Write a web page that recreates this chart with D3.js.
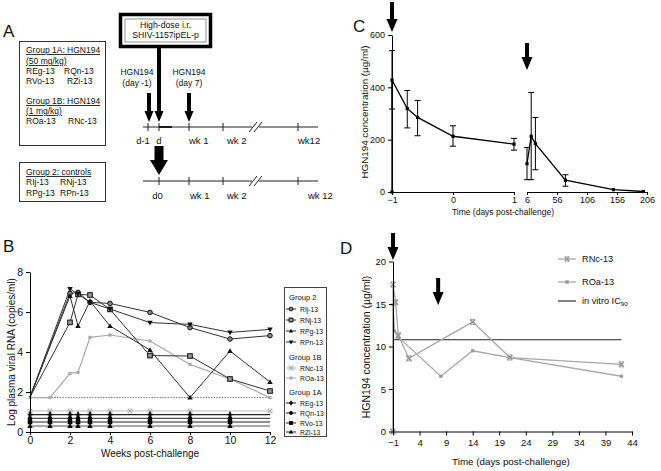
<!DOCTYPE html>
<html><head><meta charset="utf-8">
<script src="https://cdn.jsdelivr.net/npm/d3@7"></script>
<style>
body{margin:0;background:#fff}
svg{display:block}
text{font-family:"Liberation Sans",Arial,Helvetica,sans-serif;fill:#111}
</style>
</head><body>
<svg id="c" width="661" height="471"></svg>
<script>
// ---------------- DATA ----------------
// Panel B: log plasma viral RNA
const bWeeks = [0, 2, 2.4, 3, 4, 6, 8, 10, 12];
const rlj = [1.75, 6.93, 6.98, 6.48, 6.43, 5.98, 5.22, 4.65, 4.82];
const rnj = [1.75, 5.48, 6.88, 6.85, 6.13, 3.82, 3.80, 2.65, 2.05];
const rpg = [1.75, 6.80, 5.30, 6.55, 5.30, 4.10, 1.72, 4.05, 2.50];
const rpn = [1.75, 7.15, 6.90, 6.48, 6.15, 5.47, 5.38, 4.98, 5.13];
const roaWeeks = [0, 1, 2, 2.4, 3, 4, 6, 8, 10, 12];
const roa = [1.72, 1.72, 2.93, 2.98, 4.73, 4.85, 4.55, 3.38, 2.65, 1.72];
const rncWeeks = [0, 1, 2, 3, 4, 5, 6, 8, 12];
const rncLevel = 1.05;
const g1aNames = ["REg-13", "RQn-13", "RVo-13", "RZi-13"];
const g1aWeeks = [0, 1, 2, 2.4, 3, 4, 6, 8, 10];
const g1aLevels = [0.87, 0.68, 0.50, 0.30];
const bLimit = 1.72;
const bXTicks = [0, 2, 4, 6, 8, 10, 12];
const bYTicks = [0, 2, 4, 6, 8];

// Panel C: HGN194 concentration (mean, error)
const c1Days = [-1, -1, -0.75, -0.58, 0, 1];
const c1Mean = [0, 428, 319, 285, 213, 183];
const c1Lo = [null, 317, 245, 215, 175, 160];
const c1Hi = [null, 540, 388, 350, 253, 205];
const c2Days = [6, 13, 20, 70, 150, 200];
const c2Mean = [108, 213, 185, 45, 9, 2];
const c2Lo = [47, 47, 85, 22, null, null];
const c2Hi = [170, 380, 285, 66, null, null];
const cX1Ticks = [-1, 0, 1];
const cX2Ticks = [6, 56, 106, 156, 206];
const cYTicks = [0, 200, 400, 600];
const cArrowDays = [-1, 6];

// Panel D: RNc-13 / ROa-13
const rncDDays = [-1, -1, -0.5, 0, 2, 14, 21, 42];
const rncDVals = [0, 17.3, 15.2, 11.3, 8.6, 12.9, 8.7, 7.9];
const roaDDays = [-1, -1, -0.7, 0, 8, 14, 21, 42];
const roaDVals = [0, 14.9, 11.8, 11.1, 6.5, 9.5, 8.7, 6.5];
const ic90 = 10.8;
const ic90Range = [-1, 42];
const dXTicks = [-1, 4, 9, 14, 19, 24, 29, 34, 39, 44];
const dYTicks = [0, 5, 10, 15, 20];
const dArrowDays = [-1, 7.5];

// ---------------- HELPERS ----------------
const svg = d3.select("#c");
const zip = (xs, ys) => xs.map((x, i) => [x, ys[i]]);
const fmtInt = d3.format("d");

function styleAxis(sel, fs) {
  sel.selectAll("path.domain").attr("stroke", "#000").attr("stroke-width", 1);
  sel.selectAll(".tick line").attr("stroke", "#000");
  sel.selectAll(".tick text").attr("font-size", fs).attr("fill", "#111")
     .attr("font-family", '"Liberation Sans",Arial,sans-serif');
  sel.attr("font-size", null).attr("font-family", null);
}

function marker(g, type, x, y, s) {
  s = s || 2.5;
  const tri = (up) => up
    ? `M${x},${y - s * 1.25}L${x + s * 1.2},${y + s * 0.85}L${x - s * 1.2},${y + s * 0.85}Z`
    : `M${x},${y + s * 1.25}L${x + s * 1.2},${y - s * 0.85}L${x - s * 1.2},${y - s * 0.85}Z`;
  switch (type) {
    case "circle":
      g.append("circle").attr("cx", x).attr("cy", y).attr("r", s)
        .attr("fill", "#888").attr("stroke", "#111").attr("stroke-width", 1); break;
    case "square":
      g.append("rect").attr("x", x - s).attr("y", y - s).attr("width", 2 * s).attr("height", 2 * s)
        .attr("fill", "#999").attr("stroke", "#111").attr("stroke-width", 1); break;
    case "tri": g.append("path").attr("d", tri(true)).attr("fill", "#111"); break;
    case "dtri": g.append("path").attr("d", tri(false)).attr("fill", "#111"); break;
    case "xbox":
      g.append("rect").attr("x", x - s).attr("y", y - s).attr("width", 2 * s).attr("height", 2 * s)
        .attr("fill", "none").attr("stroke", "#bbb").attr("stroke-width", 0.8);
      g.append("path").attr("d", `M${x - s},${y - s}L${x + s},${y + s}M${x + s},${y - s}L${x - s},${y + s}`)
        .attr("stroke", "#aaa").attr("stroke-width", 0.9); break;
    case "gsq":
      g.append("rect").attr("x", x - s * 0.8).attr("y", y - s * 0.8).attr("width", 1.6 * s).attr("height", 1.6 * s)
        .attr("fill", "#aaa"); break;
    case "plus":
      g.append("path").attr("d", `M${x - s},${y}L${x + s},${y}M${x},${y - s * 1.2}L${x},${y + s * 1.2}`)
        .attr("stroke", "#000").attr("stroke-width", 1.6); break;
    case "fcircle":
      g.append("circle").attr("cx", x).attr("cy", y).attr("r", s).attr("fill", "#000"); break;
    case "fsquare":
      g.append("rect").attr("x", x - s).attr("y", y - s).attr("width", 2 * s).attr("height", 2 * s).attr("fill", "#000"); break;
    case "ftri": g.append("path").attr("d", tri(true)).attr("fill", "#000"); break;
    case "xmark":
      g.append("path").attr("d", `M${x - s},${y - s}L${x + s},${y + s}M${x + s},${y - s}L${x - s},${y + s}`)
        .attr("stroke", "#999").attr("stroke-width", 1.6);
      g.append("path").attr("d", `M${x - s},${y - s}L${x + s},${y - s}M${x - s},${y + s}L${x + s},${y + s}`)
        .attr("stroke", "#999").attr("stroke-width", 0.8); break;
    case "dsq":
      g.append("rect").attr("x", x - s * 0.8).attr("y", y - s * 0.8).attr("width", 1.6 * s).attr("height", 1.6 * s)
        .attr("fill", "#999"); break;
  }
}

function arrow(g, x, y1, y2, shaftW, headW, headL) {
  const hs = y2 - headL;
  g.append("path").attr("d",
    `M${x - shaftW / 2},${y1}L${x + shaftW / 2},${y1}L${x + shaftW / 2},${hs}L${x + headW / 2},${hs}` +
    `L${x},${y2}L${x - headW / 2},${hs}L${x - shaftW / 2},${hs}Z`).attr("fill", "#000");
}

function txt(g, s, x, y, fs, anchor, extra) {
  const t = g.append("text").attr("x", x).attr("y", y).attr("font-size", fs)
    .attr("text-anchor", anchor || "start").text(s);
  if (extra) extra(t);
  return t;
}

// ---------------- PANEL A ----------------
const gA = svg.append("g");
txt(gA, "A", 3, 37, 17);
gA.append("rect").attr("x", 19.5).attr("y", 41.5).attr("width", 86).attr("height", 104)
  .attr("fill", "none").attr("stroke", "#333").attr("stroke-width", 1);
gA.append("rect").attr("x", 19.5).attr("y", 162.5).attr("width", 86).attr("height", 39)
  .attr("fill", "none").attr("stroke", "#333").attr("stroke-width", 1);
const ul = t => t.attr("text-decoration", "underline");
txt(gA, "Group 1A: HGN194", 26, 53, 8.5, "start", ul);
txt(gA, "(50 mg/kg)", 26, 64, 8.5, "start", ul);
txt(gA, g1aNames[0], 26, 74, 8.5); txt(gA, g1aNames[1], 64, 74, 8.5);
txt(gA, g1aNames[2], 26, 84, 8.5); txt(gA, g1aNames[3], 67, 84, 8.5);
txt(gA, "Group 1B: HGN194", 26, 104, 8.5, "start", ul);
txt(gA, "(1 mg/kg)", 26, 114, 8.5, "start", ul);
txt(gA, "ROa-13", 26, 124, 8.5); txt(gA, "RNc-13", 68, 124, 8.5);
txt(gA, "Group 2: controls", 26, 175, 8.5, "start", ul);
txt(gA, "RIj-13", 26, 185, 8.5); txt(gA, "RNj-13", 60, 185, 8.5);
txt(gA, "RPg-13", 26, 196, 8.5); txt(gA, "RPn-13", 60, 196, 8.5);
gA.append("rect").attr("x", 120.5).attr("y", 14.5).attr("width", 90).attr("height", 32)
  .attr("fill", "#fff").attr("stroke", "#000").attr("stroke-width", 3.5);
gA.append("rect").attr("x", 125).attr("y", 19).attr("width", 81).attr("height", 23)
  .attr("fill", "none").attr("stroke", "#777").attr("stroke-width", 0.8);
txt(gA, "High-dose i.r.", 165.5, 28, 8.7, "middle");
txt(gA, "SHIV-1157ipEL-p", 165.5, 38, 8.7, "middle");
function timeline(y, ticks) {
  gA.append("line").attr("x1", 143).attr("x2", 318).attr("y1", y).attr("y2", y).attr("stroke", "#222").attr("stroke-width", 1);
  ticks.forEach(t => gA.append("line").attr("x1", t).attr("x2", t).attr("y1", y - 4).attr("y2", y + 4).attr("stroke", "#222"));
  gA.append("rect").attr("x", 252).attr("y", y - 2).attr("width", 7).attr("height", 4).attr("fill", "#fff");
  gA.append("path").attr("d", `M249,${y + 5}L257,${y - 5}M254,${y + 5}L262,${y - 5}`).attr("stroke", "#222").attr("stroke-width", 1);
}
timeline(127, [148, 159, 189, 223, 298]);
gA.append("line").attr("x1", 159).attr("x2", 172).attr("y1", 127).attr("y2", 127).attr("stroke", "#000").attr("stroke-width", 1.6);
timeline(181, [159, 189, 223, 298]);
txt(gA, "d-1", 143, 144, 9.5, "middle");
txt(gA, "d", 159, 144, 9.5, "middle");
txt(gA, "wk 1", 189, 144, 9.5);
txt(gA, "wk 2", 227, 144, 9.5);
txt(gA, "wk12", 298, 144, 9.5);
txt(gA, "d0", 157.5, 199, 9.5, "middle");
txt(gA, "wk 1", 190, 199, 9.5);
txt(gA, "wk 2", 227, 199, 9.5);
txt(gA, "wk 12", 308, 199, 9.5);
txt(gA, "HGN194", 137, 75, 8.5, "middle");
txt(gA, "(day -1)", 137, 86, 8.5, "middle");
txt(gA, "HGN194", 189, 75, 8.5, "middle");
txt(gA, "(day 7)", 189, 86, 8.5, "middle");
arrow(gA, 159, 48, 122, 4, 9, 11);
arrow(gA, 149, 93, 122, 4, 9, 11);
arrow(gA, 189, 93, 122, 4, 9, 11);
arrow(gA, 159, 146, 175, 9, 18, 15);

// ---------------- PANEL B ----------------
const bx = d3.scaleLinear([0, 12], [30, 270]);
const by = d3.scaleLinear([0, 8], [432, 272]);
const gB = svg.append("g");
txt(gB, "B", 3, 252, 17);
const bLine = d3.line().x(d => bx(d[0])).y(d => by(d[1]));

gB.append("path").attr("d", bLine([[0, rncLevel], [12, rncLevel]])).attr("stroke", "#bbb").attr("stroke-width", 1.2).attr("fill", "none");
g1aLevels.forEach((lv, i) => {
  gB.append("path").attr("d", bLine([[0, lv], [12, lv]])).attr("stroke", i % 2 ? "#555" : "#222")
    .attr("stroke-width", 1.1).attr("fill", "none");
});
gB.append("path").attr("d", bLine([[0, bLimit], [12, bLimit]])).attr("stroke", "#777")
  .attr("stroke-width", 1).attr("stroke-dasharray", "1.5,1.2").attr("fill", "none");

rncWeeks.forEach(w => marker(gB, "xbox", bx(w), by(rncLevel), 2));
const g1aMarkers = ["plus", "fcircle", "fsquare", "ftri"];
g1aLevels.forEach((lv, i) => g1aWeeks.forEach(w => marker(gB, g1aMarkers[i], bx(w), by(lv), 2.3)));

gB.append("path").attr("d", bLine(zip(roaWeeks, roa))).attr("stroke", "#aaa").attr("stroke-width", 1.2).attr("fill", "none");
zip(roaWeeks, roa).forEach(d => marker(gB, "gsq", bx(d[0]), by(d[1]), 2));

const g2 = [
  { name: "RIj-13", vals: rlj, m: "circle" },
  { name: "RNj-13", vals: rnj, m: "square" },
  { name: "RPg-13", vals: rpg, m: "tri" },
  { name: "RPn-13", vals: rpn, m: "dtri" }
];
g2.forEach(s => {
  gB.append("path").attr("d", bLine(zip(bWeeks, s.vals))).attr("stroke", "#333").attr("stroke-width", 1).attr("fill", "none");
});
g2.forEach(s => zip(bWeeks, s.vals).slice(1).forEach(d => marker(gB, s.m, bx(d[0]), by(d[1]), 2.3)));

gB.append("g").attr("transform", "translate(0,432)")
  .call(d3.axisBottom(bx).tickValues(bXTicks).tickFormat(fmtInt).tickSize(3).tickSizeOuter(0).tickPadding(2)).call(styleAxis, 10.5);
gB.append("g").attr("transform", "translate(30,0)")
  .call(d3.axisLeft(by).tickValues(bYTicks).tickFormat(fmtInt).tickSize(4).tickSizeOuter(0).tickPadding(3)).call(styleAxis, 10.5);
txt(gB, "Weeks post-challenge", 150, 457, 10, "middle");
txt(gB, "Log plasma viral RNA (copies/ml)", 0, 0, 10, "middle",
  t => t.attr("transform", "translate(15,352) rotate(-90)"));

const lg = gB.append("g");
lg.append("rect").attr("x", 284.5).attr("y", 287.5).attr("width", 42).attr("height", 149)
  .attr("fill", "#fff").attr("stroke", "#444").attr("stroke-width", 1);
const legRows = [
  { title: "Group 2", y: 300 },
  { name: g2[0].name, m: "circle", c: "#333", y: 309 },
  { name: g2[1].name, m: "square", c: "#333", y: 320 },
  { name: g2[2].name, m: "tri", c: "#333", y: 331 },
  { name: g2[3].name, m: "dtri", c: "#333", y: 342 },
  { title: "Group 1B", y: 360 },
  { name: "RNc-13", m: "xbox", c: "#bbb", y: 368 },
  { name: "ROa-13", m: "gsq", c: "#aaa", y: 378 },
  { title: "Group 1A", y: 395 },
  { name: g1aNames[0], m: "plus", c: "#222", y: 403 },
  { name: g1aNames[1], m: "fcircle", c: "#222", y: 413 },
  { name: g1aNames[2], m: "fsquare", c: "#222", y: 423 },
  { name: g1aNames[3], m: "ftri", c: "#222", y: 432 }
];
legRows.forEach(r => {
  if (r.title) { txt(lg, r.title, 289, r.y, 7.6); return; }
  lg.append("line").attr("x1", 286).attr("x2", 296).attr("y1", r.y).attr("y2", r.y).attr("stroke", r.c).attr("stroke-width", 1);
  marker(lg, r.m, 291, r.y, 1.9);
  txt(lg, r.name, 300, r.y + 2.5, 6.8);
});

// ---------------- PANEL C ----------------
const gC = svg.append("g");
txt(gC, "C", 353, 32, 17);
const cy = d3.scaleLinear([0, 600], [192, 35]);
const cx1 = d3.scaleLinear([-1, 1], [392, 514]);
const cx2 = d3.scaleLinear([6, 206], [527, 647]);
function cSeg(xs, days, mean, lo, hi) {
  const line = d3.line().x(d => xs(d[0])).y(d => cy(d[1]));
  days.forEach((d, i) => {
    if (lo[i] == null) return;
    const x = xs(d);
    gC.append("line").attr("x1", x).attr("x2", x).attr("y1", cy(lo[i])).attr("y2", cy(hi[i])).attr("stroke", "#000").attr("stroke-width", 1);
    [lo[i], hi[i]].forEach(v => gC.append("line").attr("x1", x - 3).attr("x2", x + 3).attr("y1", cy(v)).attr("y2", cy(v)).attr("stroke", "#000").attr("stroke-width", 1));
  });
  gC.append("path").attr("d", line(zip(days, mean))).attr("stroke", "#000").attr("stroke-width", 1.3).attr("fill", "none");
  zip(days, mean).forEach(d => gC.append("rect").attr("x", xs(d[0]) - 1.6).attr("y", cy(d[1]) - 1.6).attr("width", 3.2).attr("height", 3.2).attr("fill", "#000"));
}
cSeg(cx1, c1Days, c1Mean, c1Lo, c1Hi);
cSeg(cx2, c2Days, c2Mean, c2Lo, c2Hi);
gC.append("g").attr("transform", "translate(0,192)")
  .call(d3.axisBottom(cx1).tickValues(cX1Ticks).tickFormat(fmtInt).tickSize(3).tickSizeOuter(0).tickPadding(2)).call(styleAxis, 9);
gC.append("g").attr("transform", "translate(0,192)")
  .call(d3.axisBottom(cx2).tickValues(cX2Ticks).tickFormat(fmtInt).tickSize(3).tickSizeOuter(0).tickPadding(2)).call(styleAxis, 9);
gC.append("g").attr("transform", "translate(392,0)")
  .call(d3.axisLeft(cy).tickValues(cYTicks).tickFormat(fmtInt).tickSize(4).tickSizeOuter(0).tickPadding(3)).call(styleAxis, 9);
txt(gC, "Time (days post-challenge)", 503, 215, 8.5, "middle");
txt(gC, "HGN194 concentration (\u00b5g/ml)", 0, 0, 9.8, "middle",
  t => t.attr("transform", "translate(368,112) rotate(-90)"));
arrow(gC, cx1(cArrowDays[0]), 2, 32, 4, 11, 13);
arrow(gC, cx2(cArrowDays[1]), 43, 70, 4, 11, 13);

// ---------------- PANEL D ----------------
const gD = svg.append("g");
txt(gD, "D", 340, 254, 17);
const dx = d3.scaleLinear([-1, 44], [393, 632]);
const dy = d3.scaleLinear([0, 20], [431.5, 261.5]);
const dLine = d3.line().x(d => dx(d[0])).y(d => dy(d[1]));
gD.append("path").attr("d", dLine([[ic90Range[0], ic90], [ic90Range[1], ic90]])).attr("stroke", "#222").attr("stroke-width", 1.1).attr("fill", "none");
gD.append("path").attr("d", dLine(zip(roaDDays, roaDVals))).attr("stroke", "#a8a8a8").attr("stroke-width", 1.3).attr("fill", "none");
gD.append("path").attr("d", dLine(zip(rncDDays, rncDVals))).attr("stroke", "#a8a8a8").attr("stroke-width", 1.3).attr("fill", "none");
zip(roaDDays, roaDVals).forEach(d => marker(gD, "dsq", dx(d[0]), dy(d[1]), 2));
zip(rncDDays, rncDVals).forEach(d => marker(gD, "xmark", dx(d[0]), dy(d[1]), 2.5));
gD.append("g").attr("transform", "translate(0,431.5)")
  .call(d3.axisBottom(dx).tickValues(dXTicks).tickFormat(fmtInt).tickSize(4).tickSizeOuter(0).tickPadding(4)).call(styleAxis, 9.5);
gD.append("g").attr("transform", "translate(393,0)")
  .call(d3.axisLeft(dy).tickValues(dYTicks).tickFormat(fmtInt).tickSize(4).tickSizeOuter(0).tickPadding(3)).call(styleAxis, 9.5);
txt(gD, "Time (days post-challenge)", 511, 465, 9.8, "middle");
txt(gD, "HGN194 concentration (\u00b5g/ml)", 0, 0, 10.5, "middle",
  t => t.attr("transform", "translate(370,347) rotate(-90)"));
arrow(gD, dx(dArrowDays[0]), 233, 260, 4, 11, 13);
arrow(gD, dx(dArrowDays[1]), 278, 305, 4, 11, 13);
const ldRows = [
  { name: "RNc-13", m: "xmark", c: "#a8a8a8", y: 259 },
  { name: "ROa-13", m: "dsq", c: "#a8a8a8", y: 282 }
];
ldRows.forEach(r => {
  gD.append("line").attr("x1", 558).attr("x2", 576).attr("y1", r.y).attr("y2", r.y).attr("stroke", r.c).attr("stroke-width", 1.3);
  marker(gD, r.m, 567, r.y, 2.2);
  txt(gD, r.name, 582, r.y + 3.3, 9.2);
});
gD.append("line").attr("x1", 558).attr("x2", 576).attr("y1", 301).attr("y2", 301).attr("stroke", "#222").attr("stroke-width", 1.1);
const icT = txt(gD, "in vitro IC", 582, 304.3, 9.2);
icT.append("tspan").attr("font-size", 6.2).attr("dy", 2).text("90");
</script>
</body></html>
